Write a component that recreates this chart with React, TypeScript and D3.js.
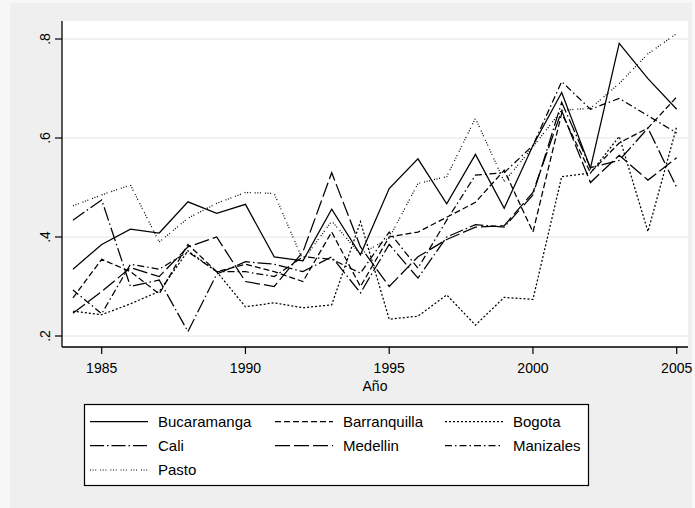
import React from "react";
import * as d3 from "d3";

const years = d3.range(1984, 2006);
const seriesNames = ["Bucaramanga", "Barranquilla", "Bogota", "Cali", "Medellin", "Manizales", "Pasto"];

const bucaramanga = [.335,.385,.416,.408,.471,.448,.466,.360,.352,.456,.364,.498,.558,.467,.567,.458,.585,.692,.539,.791,.720,.658];
const barranquilla = [.277,.355,.330,.285,.385,.330,.345,.330,.310,.410,.300,.400,.410,.440,.470,.535,.410,.650,.530,.590,.620,.683];
const bogota = [.250,.243,.265,.290,.372,.330,.259,.267,.257,.263,.431,.234,.240,.283,.222,.278,.274,.522,.529,.603,.411,.623];
const cali = [.434,.475,.300,.313,.209,.325,.350,.345,.330,.360,.287,.385,.317,.400,.425,.420,.485,.672,.540,.555,.620,.500];
const medellin = [.246,.290,.338,.320,.380,.400,.310,.300,.370,.530,.380,.300,.360,.395,.420,.423,.490,.655,.510,.565,.515,.560];
const manizales = [.293,.245,.345,.335,.370,.330,.330,.320,.360,.355,.327,.410,.337,.434,.525,.530,.585,.714,.658,.680,.645,.610];
const pasto = [.463,.485,.505,.390,.438,.468,.490,.488,.353,.432,.365,.398,.508,.522,.640,.512,.582,.656,.660,.710,.770,.811];

const seriesValues = [bucaramanga, barranquilla, bogota, cali, medellin, manizales, pasto];
const dashes = ["none", "6,3", "2,2", "14,3,1.5,3", "15,4", "7,3,1.5,3", "1,1.6,1,1.6,1,4"];

const yTicks = [0.2, 0.4, 0.6, 0.8];
const yTickLabels = [".2", ".4", ".6", ".8"];
const xTicks = [1985, 1990, 1995, 2000, 2005];

const FONT = "'Liberation Sans', Arial, sans-serif";

export default function App() {
  const left = 62, right = 688, top = 21, bottom = 347;
  const x = d3.scaleLinear().domain([1985, 2005]).range([101.7, 676.7]);
  const y = d3.scaleLinear().domain([0.2, 0.8]).range([336, 39]);
  const line = d3.line<number>().x((_, i) => x(years[i])).y((v) => y(v));

  const legendCols = [90, 275, 445];
  const legendRows = [421.7, 445.7, 470];

  return (
    <svg width={695} height={508} style={{ position: "absolute", left: 0, top: 0 }} fontFamily={FONT}>
      <rect x={0} y={0} width={695} height={508} fill="#f7f7f7" />
      <rect x={10} y={3} width={682} height={505} fill="#efefef" />
      <rect x={left} y={top} width={right - left} height={bottom - top} fill="#ffffff" />
      {yTicks.map((t) => (
        <line key={t} x1={left} x2={right} y1={y(t)} y2={y(t)} stroke="#e4e4e4" strokeWidth={1} />
      ))}
      {seriesValues.map((vals, i) => (
        <path key={i} d={line(vals) || ""} fill="none" stroke="#000" strokeWidth={1.25}
          strokeDasharray={dashes[i] === "none" ? undefined : dashes[i]} />
      ))}
      <line x1={left} x2={left} y1={top} y2={bottom} stroke="#000" strokeWidth={1.3} />
      <line x1={left} x2={right} y1={bottom} y2={bottom} stroke="#000" strokeWidth={1.3} />
      {yTicks.map((t, i) => (
        <g key={t}>
          <line x1={55} x2={left} y1={y(t)} y2={y(t)} stroke="#000" strokeWidth={1.2} />
          <text transform={`translate(50,${y(t)}) rotate(-90)`} textAnchor="middle" fontSize={14} fill="#000">
            {yTickLabels[i]}
          </text>
        </g>
      ))}
      {xTicks.map((t) => (
        <g key={t}>
          <line x1={x(t)} x2={x(t)} y1={bottom} y2={354} stroke="#000" strokeWidth={1.2} />
          <text x={x(t)} y={372.5} textAnchor="middle" fontSize={14} fill="#000">{t}</text>
        </g>
      ))}
      <text x={(left + right) / 2} y={391} textAnchor="middle" fontSize={14} fill="#000">Año</text>
      <rect x={84.5} y={404.5} width={504} height={81} fill="#fff" stroke="#000" strokeWidth={1.2} />
      {seriesNames.map((name, i) => {
        const cx = legendCols[i % 3];
        const cy = legendRows[Math.floor(i / 3)];
        return (
          <g key={name}>
            <line x1={cx} x2={cx + 58} y1={cy} y2={cy} stroke="#000" strokeWidth={1.2}
              strokeDasharray={dashes[i] === "none" ? undefined : dashes[i]} />
            <text x={cx + 68} y={cy + 5} fontSize={15} fill="#000">{name}</text>
          </g>
        );
      })}
    </svg>
  );
}
